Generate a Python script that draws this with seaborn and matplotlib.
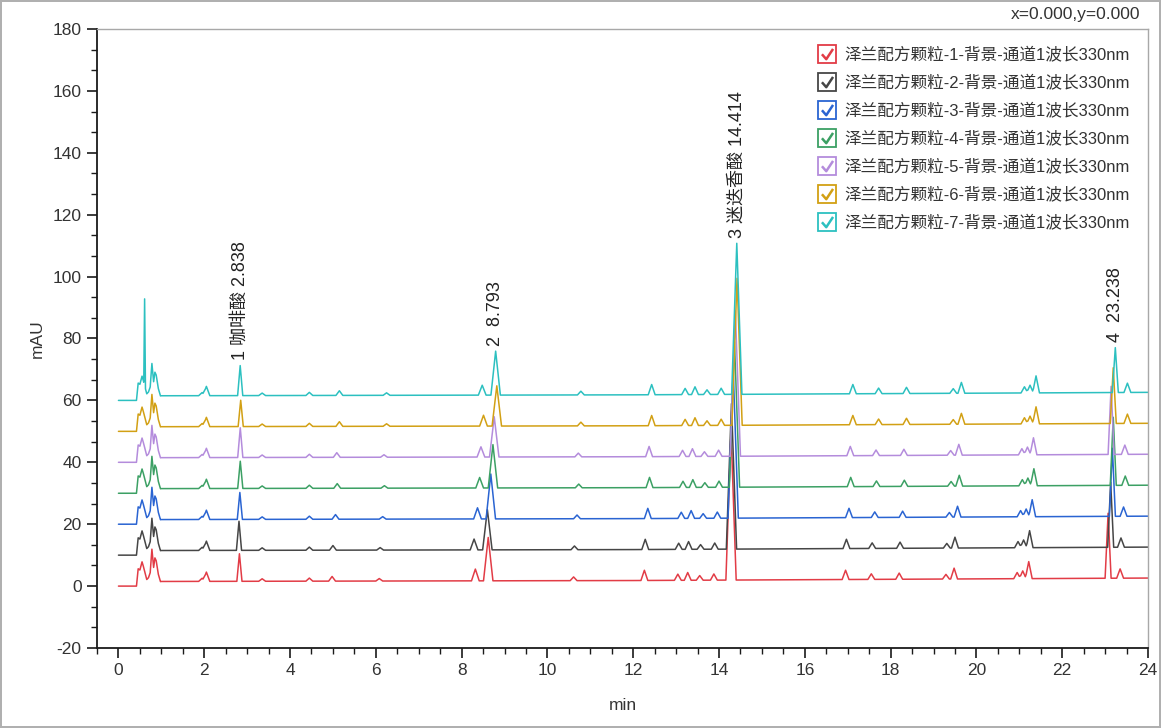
import numpy as np
import pandas as pd
import matplotlib
matplotlib.use("Agg")
import matplotlib.pyplot as plt
from matplotlib.lines import Line2D
from matplotlib.path import Path
from matplotlib.legend_handler import HandlerTuple
from matplotlib.ticker import MultipleLocator, AutoMinorLocator
import seaborn as sns

# ---------------- data ----------------
run_names = [f"泽兰配方颗粒-{i}-背景-通道1波长330nm" for i in range(1, 8)]
run_colors = ["#e23c46", "#464646", "#2a64d2", "#3ca064", "#b48cdc", "#d2a014", "#2cc0c0"]
run_offsets = [0, 10, 20, 30, 40, 50, 60]
run_shift = [-0.17, -0.15, -0.09, -0.05, -0.06, 0.0, 0.0]

# detector baseline (min, mAU above the run offset)
baseline_t = [0.0, 0.42, 1.0, 12.0, 24.0]
baseline_y = [0.0, 0.0, 1.5, 1.8, 2.6]

# unretained / void cluster
void_t = [0.42, 0.46, 0.50, 0.55, 0.58, 0.66, 0.70, 0.74, 0.78, 0.82, 0.85, 0.88, 0.93, 0.98]
void_y = [0.0, 5.5, 5.0, 7.5, 6.0, 1.5, 2.0, 3.5, 11.0, 5.0, 8.0, 7.0, 2.5, 0.0]
spike_rt = 0.61
spike_h = [0, 0, 0, 0, 0, 0, 28.0]

# labelled peaks, one value per run
peak1_rt = [2.82, 2.81, 2.83, 2.84, 2.84, 2.85, 2.838]
peak1_h = [8.9, 9.4, 8.7, 8.8, 9.6, 8.5, 9.7]
shoulder_rt = [8.32, 8.29, 8.37, 8.42, 8.45, 8.51, 8.48]
shoulder_h = [3.8, 3.5, 3.6, 3.4, 3.3, 3.5, 3.2]
peak2_rt = [8.62, 8.60, 8.68, 8.73, 8.76, 8.82, 8.793]
peak2_h = [14.0, 13.0, 14.5, 14.0, 13.0, 13.0, 14.2]
peak3_rt = [14.28, 14.29, 14.33, 14.36, 14.38, 14.42, 14.414]
peak3_h = [48.0, 47.0, 48.0, 47.0, 47.0, 47.5, 48.8]
peak4_rt = [23.07, 23.13, 23.17, 23.19, 23.14, 23.19, 23.238]
peak4_h = [21.0, 21.0, 22.0, 22.0, 22.0, 18.0, 14.5]

# small unlabelled peaks common to all runs
minor_rt = [1.95, 2.05, 3.35, 4.45, 5.15, 6.25, 10.78, 12.43, 13.21, 13.44, 13.72,
            14.05, 17.12, 17.72, 18.37, 19.46, 19.65, 21.12, 21.25, 21.39, 23.52]
minor_h = [1.0, 3.0, 0.8, 1.0, 1.5, 0.8, 1.2, 3.3, 2.0, 2.5, 1.5,
           2.0, 3.0, 1.8, 2.0, 1.5, 3.5, 2.0, 2.5, 5.5, 3.0]

peak_labels = ["1 咖啡酸 2.838", "2  8.793", "3 迷迭香酸 14.414", "4  23.238"]

# ---------------- build traces ----------------
def build_trace(i):
    peaks = [(spike_rt, spike_h[i], 0.02),
             (peak1_rt[i], peak1_h[i], 0.06),
             (shoulder_rt[i], shoulder_h[i], 0.09),
             (peak2_rt[i], peak2_h[i], 0.11),
             (peak3_rt[i], peak3_h[i], 0.12),
             (peak4_rt[i], peak4_h[i], 0.07)]
    for rt, h in zip(minor_rt, minor_h):
        shift = run_shift[i] if rt > 5 else 0.0
        peaks.append((rt + shift, h, 0.08))
    knots = set(baseline_t) | set(void_t)
    for rt, h, w in peaks:
        knots.update([rt - w, rt, rt + w])
    t = np.array(sorted(k for k in knots if 0.0 <= k <= 24.0))
    y = np.interp(t, baseline_t, baseline_y) + np.interp(t, void_t, void_y, left=0, right=0)
    for rt, h, w in peaks:
        y = y + np.interp(t, [rt - w, rt, rt + w], [0.0, h, 0.0], left=0, right=0)
    return t, y + run_offsets[i]

frames = []
for i, name in enumerate(run_names):
    t, y = build_trace(i)
    frames.append(pd.DataFrame({"min": t, "mAU": y, "run": name}))
df = pd.concat(frames, ignore_index=True)

# ---------------- figure ----------------
sns.set_style("white")
plt.rcParams["font.family"] = ["Liberation Sans", "Noto Sans CJK SC", "DejaVu Sans"]
plt.rcParams["axes.unicode_minus"] = False

W, H = 1161, 728
fig = plt.figure(figsize=(W / 100, H / 100), dpi=100)
fig.patch.set_facecolor("white")
fig.patch.set_edgecolor("#b0b0b0")
fig.patch.set_linewidth(1.5)

ax = fig.add_axes([97 / W, 1 - 648 / H, (1148 - 97) / W, (648 - 29) / H])

sns.lineplot(data=df, x="min", y="mAU", hue="run", hue_order=run_names,
             palette=run_colors, estimator=None, sort=False, legend=False,
             linewidth=1.1, ax=ax)

ax.set_xlim(-0.5, 24)
ax.set_ylim(-20, 180)
ax.xaxis.set_major_locator(MultipleLocator(2))
ax.xaxis.set_minor_locator(MultipleLocator(0.5))
ax.yaxis.set_major_locator(MultipleLocator(20))
ax.yaxis.set_minor_locator(AutoMinorLocator(3))
ax.tick_params(which="major", direction="out", length=7, width=1.2, color="#1a1a1a",
               labelsize=12.5, labelcolor="#333333", pad=4)
ax.tick_params(which="minor", direction="out", length=4, width=1.0, color="#1a1a1a")
ax.tick_params(axis="x", bottom=True, which="both")
ax.tick_params(axis="y", left=True, which="both")

for side in ("left", "bottom"):
    ax.spines[side].set_color("#1a1a1a")
    ax.spines[side].set_linewidth(1.3)
for side in ("top", "right"):
    ax.spines[side].set_color("#a8a8a8")
    ax.spines[side].set_linewidth(1.0)

ax.set_xlabel("min", fontsize=12.5, color="#333333", labelpad=14)
ax.set_ylabel("mAU", fontsize=12.5, color="#333333", labelpad=6)

# peak annotations above the last run
last = len(run_names) - 1
t7 = df[df["run"] == run_names[last]]
for rt, text in zip([peak1_rt[last], peak2_rt[last], peak3_rt[last], peak4_rt[last]], peak_labels):
    apex = np.interp(rt, t7["min"], t7["mAU"])
    ax.annotate(text, xy=(rt, apex), xytext=(0, 4), textcoords="offset points",
                rotation=90, ha="center", va="bottom", fontsize=13, color="#222222")

# legend with check-box markers
check = Path([(-0.45, 0.02), (-0.1, -0.38), (0.45, 0.45)],
             [Path.MOVETO, Path.LINETO, Path.LINETO])
handles = []
for c in run_colors:
    box = Line2D([], [], ls="none", marker="s", ms=13, mfc="white", mec=c, mew=1.3)
    tick = Line2D([], [], ls="none", marker=check, ms=8, mfc="none", mec=c, mew=1.8)
    handles.append((box, tick))
ax.legend(handles, run_names, handler_map={tuple: HandlerTuple(ndivide=1, pad=0)},
          loc="upper left", bbox_to_anchor=(819 / W, 1 - 47 / H),
          bbox_transform=fig.transFigure, frameon=False, fontsize=12,
          handlelength=1.0, handletextpad=0.55, labelspacing=0.72,
          borderpad=0, borderaxespad=0, labelcolor="#333333")

fig.text(1140 / W, 1 - 14 / H, "x=0.000,y=0.000", ha="right", va="center",
         fontsize=12.5, color="#333333")

fig.savefig("out.png", dpi=100)
